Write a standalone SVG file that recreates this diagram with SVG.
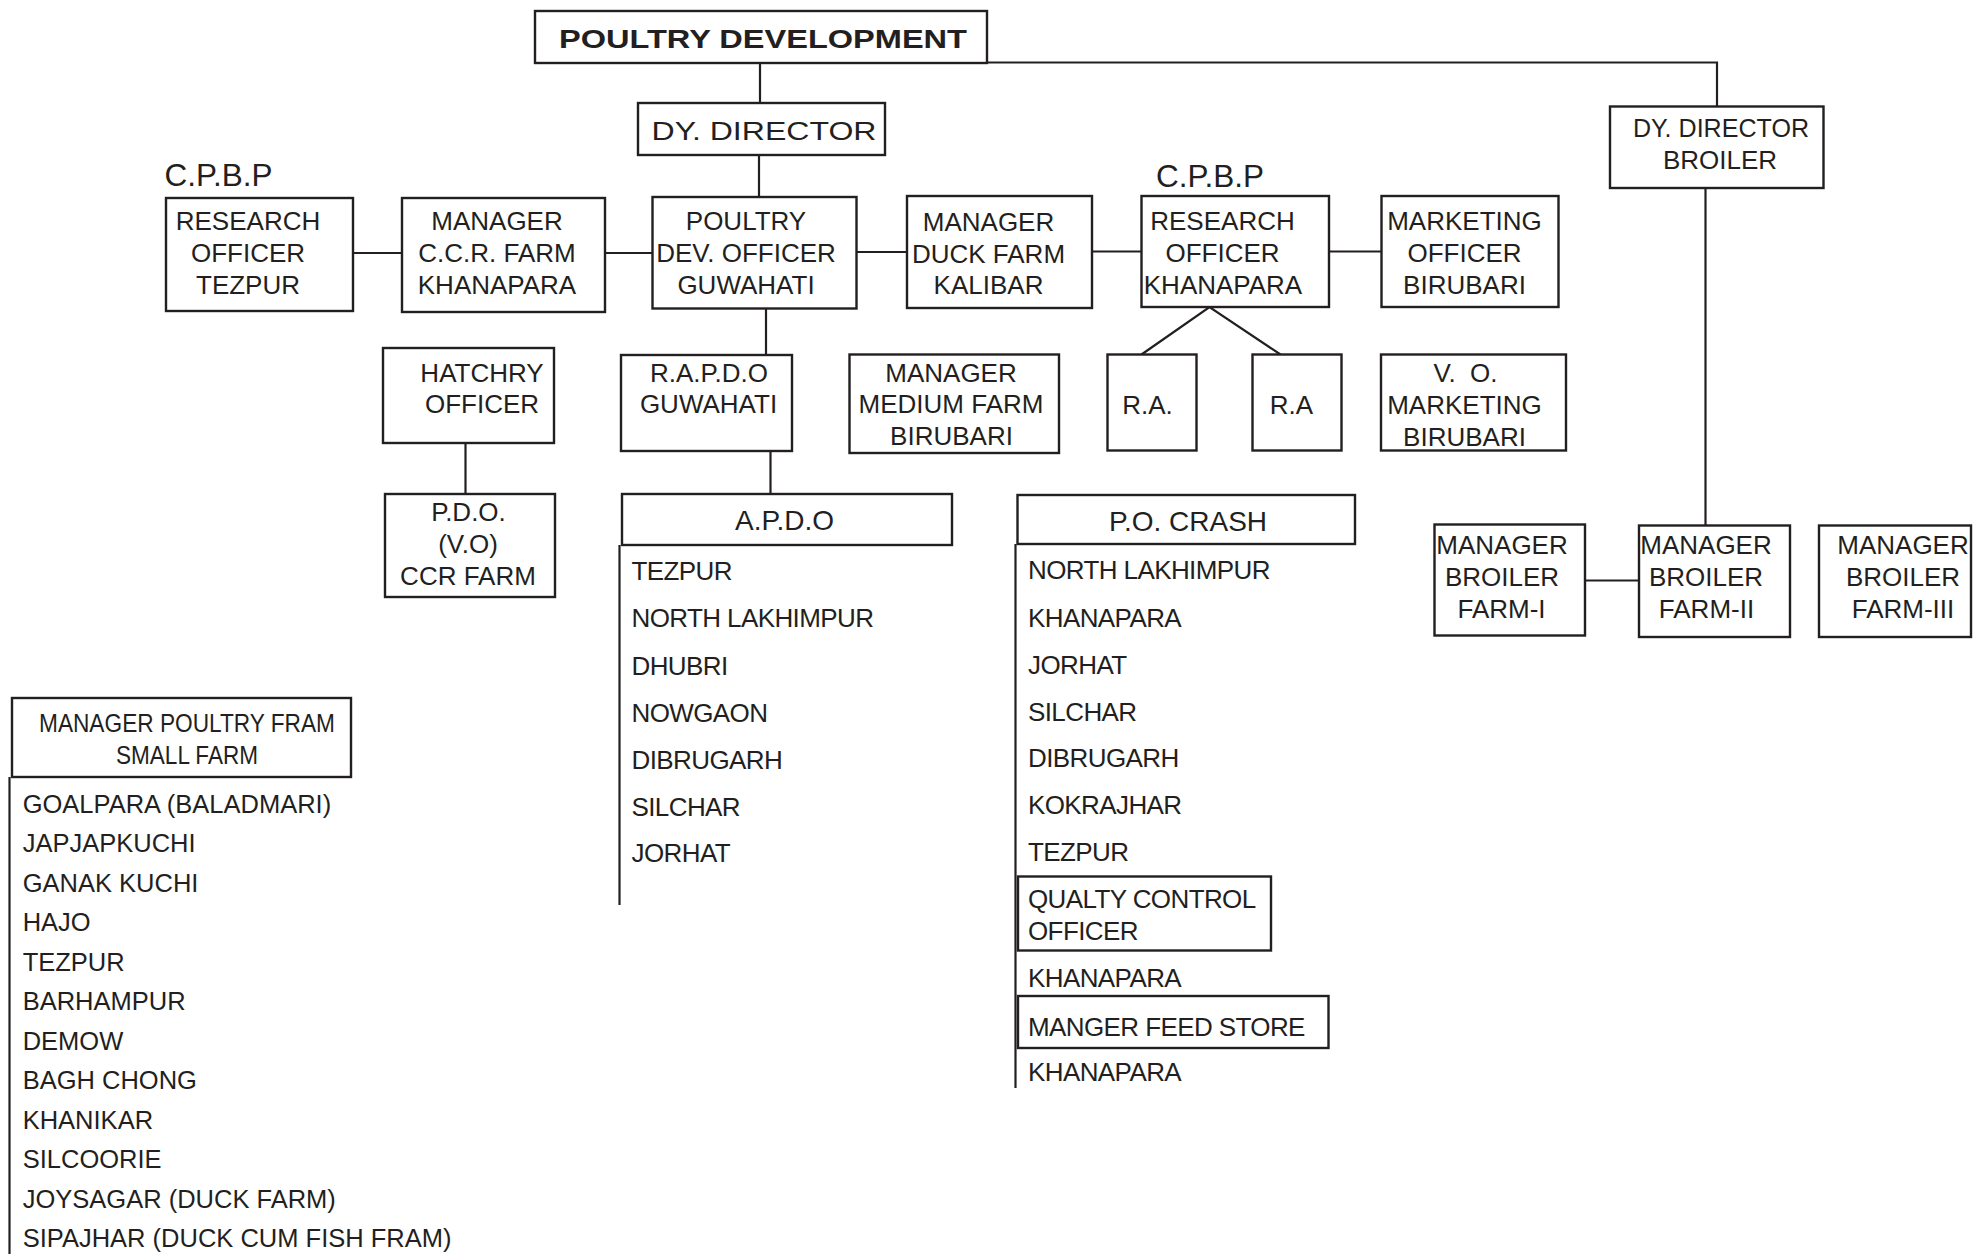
<svg xmlns="http://www.w3.org/2000/svg" width="1973" height="1254" viewBox="0 0 1973 1254">
<style>
.bx{fill:#fff;stroke:#231f20;stroke-width:2.4}
.ln{fill:none;stroke:#231f20;stroke-width:2.2}
text{font-family:"Liberation Sans",Arial,sans-serif;fill:#231f20;font-size:26px}
.c{text-anchor:middle}
.li{letter-spacing:-0.6px}
.big{font-size:31.5px}
.hd{font-size:28px}
.sm{font-size:25.5px}
</style>
<rect width="1973" height="1254" fill="#fff"/>
<g id="connectors">
<line class="ln" x1="760" y1="63" x2="760" y2="103"/>
<polyline class="ln" points="987,62.5 1717,62.5 1717,106.5"/>
<line class="ln" x1="759" y1="155" x2="759" y2="197"/>
<line class="ln" x1="353" y1="253" x2="402" y2="253"/>
<line class="ln" x1="605" y1="253" x2="652.5" y2="253"/>
<line class="ln" x1="856.5" y1="252" x2="907" y2="252"/>
<line class="ln" x1="1092" y1="251.5" x2="1141.5" y2="251.5"/>
<line class="ln" x1="1329" y1="251.5" x2="1381.5" y2="251.5"/>
<polyline class="ln" points="1141.5,354.5 1209.5,307 1280.5,354.5"/>
<line class="ln" x1="766" y1="308.5" x2="766" y2="355"/>
<line class="ln" x1="465.5" y1="443" x2="465.5" y2="494"/>
<line class="ln" x1="770.5" y1="451" x2="770.5" y2="494"/>
<line class="ln" x1="619.5" y1="545" x2="619.5" y2="905"/>
<line class="ln" x1="1015.5" y1="544" x2="1015.5" y2="1088"/>
<line class="ln" x1="1705.5" y1="188" x2="1705.5" y2="525.5"/>
<line class="ln" x1="1585" y1="580.5" x2="1639" y2="580.5"/>
<line class="ln" x1="9.5" y1="777" x2="9.5" y2="1254"/>
</g>
<g id="poultry-development">
<rect class="bx" x="535" y="11" width="452" height="52"/>
<text class="c" x="763" y="48.3" font-size="31.5" font-weight="bold" textLength="408" lengthAdjust="spacingAndGlyphs">POULTRY DEVELOPMENT</text>
</g>
<g id="dy-director">
<rect class="bx" x="638" y="103" width="247" height="52"/>
<text class="c" x="764" y="140" font-size="35" textLength="225" lengthAdjust="spacingAndGlyphs">DY. DIRECTOR</text>
</g>
<g id="cpbp-left"><text class="big" x="164.5" y="186">C.P.B.P</text></g>
<g id="cpbp-right"><text class="big" x="1156" y="186.5">C.P.B.P</text></g>
<g id="research-officer-tezpur">
<rect class="bx" x="166" y="198" width="187" height="113"/>
<text class="c" x="248" y="230">RESEARCH</text>
<text class="c" x="248" y="262">OFFICER</text>
<text class="c" x="248" y="294">TEZPUR</text>
</g>
<g id="manager-ccr-farm">
<rect class="bx" x="402" y="198" width="203" height="114"/>
<text class="c" x="497" y="230">MANAGER</text>
<text class="c" x="497" y="262">C.C.R. FARM</text>
<text class="c" x="497" y="294">KHANAPARA</text>
</g>
<g id="poultry-dev-officer">
<rect class="bx" x="652.5" y="197" width="204" height="111.5"/>
<text class="c" x="746" y="230">POULTRY</text>
<text class="c" x="746" y="262">DEV. OFFICER</text>
<text class="c" x="746" y="294">GUWAHATI</text>
</g>
<g id="manager-duck-farm">
<rect class="bx" x="907" y="196" width="185" height="112"/>
<text class="c" x="988.5" y="230.5">MANAGER</text>
<text class="c" x="988.5" y="262.5">DUCK FARM</text>
<text class="c" x="988.5" y="293.5">KALIBAR</text>
</g>
<g id="research-officer-khanapara">
<rect class="bx" x="1141.5" y="196" width="187.5" height="111"/>
<text class="c" x="1222.5" y="230">RESEARCH</text>
<text class="c" x="1222.5" y="262">OFFICER</text>
<text class="c" x="1223" y="293.5">KHANAPARA</text>
</g>
<g id="marketing-officer">
<rect class="bx" x="1381.5" y="196" width="177" height="111"/>
<text class="c" x="1464.5" y="230">MARKETING</text>
<text class="c" x="1464.5" y="262">OFFICER</text>
<text class="c" x="1464.5" y="293.5">BIRUBARI</text>
</g>
<g id="dy-director-broiler">
<rect class="bx" x="1610" y="106.5" width="213.5" height="81.5"/>
<text class="c" x="1721" y="137" textLength="176" lengthAdjust="spacingAndGlyphs">DY. DIRECTOR</text>
<text class="c" x="1720" y="169">BROILER</text>
</g>
<g id="hatchry-officer">
<rect class="bx" x="383" y="348" width="171" height="95"/>
<text class="c" x="482" y="381.5">HATCHRY</text>
<text class="c" x="482" y="413">OFFICER</text>
</g>
<g id="rapdo-guwahati">
<rect class="bx" x="621" y="355" width="171" height="96"/>
<text class="c" x="709" y="381.5">R.A.P.D.O</text>
<text class="c" x="708.5" y="413">GUWAHATI</text>
</g>
<g id="manager-medium-farm">
<rect class="bx" x="849.5" y="354.5" width="209.5" height="98.5"/>
<text class="c" x="951" y="381.5">MANAGER</text>
<text class="c" x="951" y="413">MEDIUM FARM</text>
<text class="c" x="951.5" y="444.5">BIRUBARI</text>
</g>
<g id="ra-1">
<rect class="bx" x="1107.5" y="354.5" width="89" height="96"/>
<text class="c" x="1147.5" y="413.5">R.A.</text>
</g>
<g id="ra-2">
<rect class="bx" x="1252.5" y="354.5" width="89" height="96"/>
<text class="c" x="1291.5" y="413.5">R.A</text>
</g>
<g id="vo-marketing">
<rect class="bx" x="1381" y="354.5" width="185" height="96"/>
<text class="c" x="1465.5" y="381.5" xml:space="preserve">V.  O.</text>
<text class="c" x="1464.5" y="413.5">MARKETING</text>
<text class="c" x="1464.5" y="445.5">BIRUBARI</text>
</g>
<g id="pdo-vo-ccr-farm">
<rect class="bx" x="385" y="494" width="170" height="103"/>
<text class="c" x="468.5" y="521">P.D.O.</text>
<text class="c" x="468" y="553">(V.O)</text>
<text class="c" x="468" y="585">CCR FARM</text>
</g>
<g id="apdo">
<rect class="bx" x="622" y="494" width="330" height="51"/>
<text class="c hd" x="784.5" y="530">A.P.D.O</text>
<text class="li" x="631.5" y="580">TEZPUR</text>
<text class="li" x="631.5" y="627">NORTH LAKHIMPUR</text>
<text class="li" x="631.5" y="674.5">DHUBRI</text>
<text class="li" x="631.5" y="721.5">NOWGAON</text>
<text class="li" x="631.5" y="768.5">DIBRUGARH</text>
<text class="li" x="631.5" y="815.5">SILCHAR</text>
<text class="li" x="631.5" y="862">JORHAT</text>
</g>
<g id="po-crash">
<rect class="bx" x="1017.5" y="495" width="337.5" height="49"/>
<text class="c hd" x="1188" y="530.5">P.O. CRASH</text>
<text class="li" x="1028" y="579">NORTH LAKHIMPUR</text>
<text class="li" x="1028" y="626.5">KHANAPARA</text>
<text class="li" x="1028" y="673.5">JORHAT</text>
<text class="li" x="1028" y="720.5">SILCHAR</text>
<text class="li" x="1028" y="767">DIBRUGARH</text>
<text class="li" x="1028" y="814">KOKRAJHAR</text>
<text class="li" x="1028" y="861">TEZPUR</text>
<text class="li" x="1028" y="987">KHANAPARA</text>
<text class="li" x="1028" y="1080.5">KHANAPARA</text>
</g>
<g id="quality-control-officer">
<rect class="bx" x="1018" y="876.5" width="253" height="74"/>
<text class="li" x="1028" y="908">QUALTY CONTROL</text>
<text class="li" x="1028" y="940">OFFICER</text>
</g>
<g id="manger-feed-store">
<rect class="bx" x="1018" y="996" width="310.5" height="52"/>
<text class="li" x="1028" y="1035.5">MANGER FEED STORE</text>
</g>
<g id="manager-broiler-farm-1">
<rect class="bx" x="1434.5" y="524.5" width="150.5" height="111"/>
<text class="c" x="1502" y="553.5">MANAGER</text>
<text class="c" x="1502" y="585.5">BROILER</text>
<text class="c" x="1501.5" y="617.5">FARM-I</text>
</g>
<g id="manager-broiler-farm-2">
<rect class="bx" x="1639" y="525.5" width="151" height="111.5"/>
<text class="c" x="1706" y="554">MANAGER</text>
<text class="c" x="1706" y="586">BROILER</text>
<text class="c" x="1706.5" y="618">FARM-II</text>
</g>
<g id="manager-broiler-farm-3">
<rect class="bx" x="1819" y="525.5" width="152" height="111.5"/>
<text class="c" x="1903" y="554">MANAGER</text>
<text class="c" x="1903" y="586">BROILER</text>
<text class="c" x="1903" y="618">FARM-III</text>
</g>
<g id="manager-poultry-fram">
<rect class="bx" x="12" y="698" width="339" height="79"/>
<text class="c" x="187" y="732" font-size="25" textLength="296" lengthAdjust="spacingAndGlyphs">MANAGER POULTRY FRAM</text>
<text class="c" x="187" y="764" font-size="25" textLength="142" lengthAdjust="spacingAndGlyphs">SMALL FARM</text>
<text class="sm" x="22.7" y="812.5">GOALPARA (BALADMARI)</text>
<text class="sm" x="22.7" y="852">JAPJAPKUCHI</text>
<text class="sm" x="22.7" y="891.5">GANAK KUCHI</text>
<text class="sm" x="22.7" y="931">HAJO</text>
<text class="sm" x="22.7" y="970.5">TEZPUR</text>
<text class="sm" x="22.7" y="1010">BARHAMPUR</text>
<text class="sm" x="22.7" y="1049.5">DEMOW</text>
<text class="sm" x="22.7" y="1089">BAGH CHONG</text>
<text class="sm" x="22.7" y="1128.5">KHANIKAR</text>
<text class="sm" x="22.7" y="1168">SILCOORIE</text>
<text class="sm" x="22.7" y="1207.5">JOYSAGAR (DUCK FARM)</text>
<text class="sm" x="22.7" y="1247">SIPAJHAR (DUCK CUM FISH FRAM)</text>
</g>
</svg>
